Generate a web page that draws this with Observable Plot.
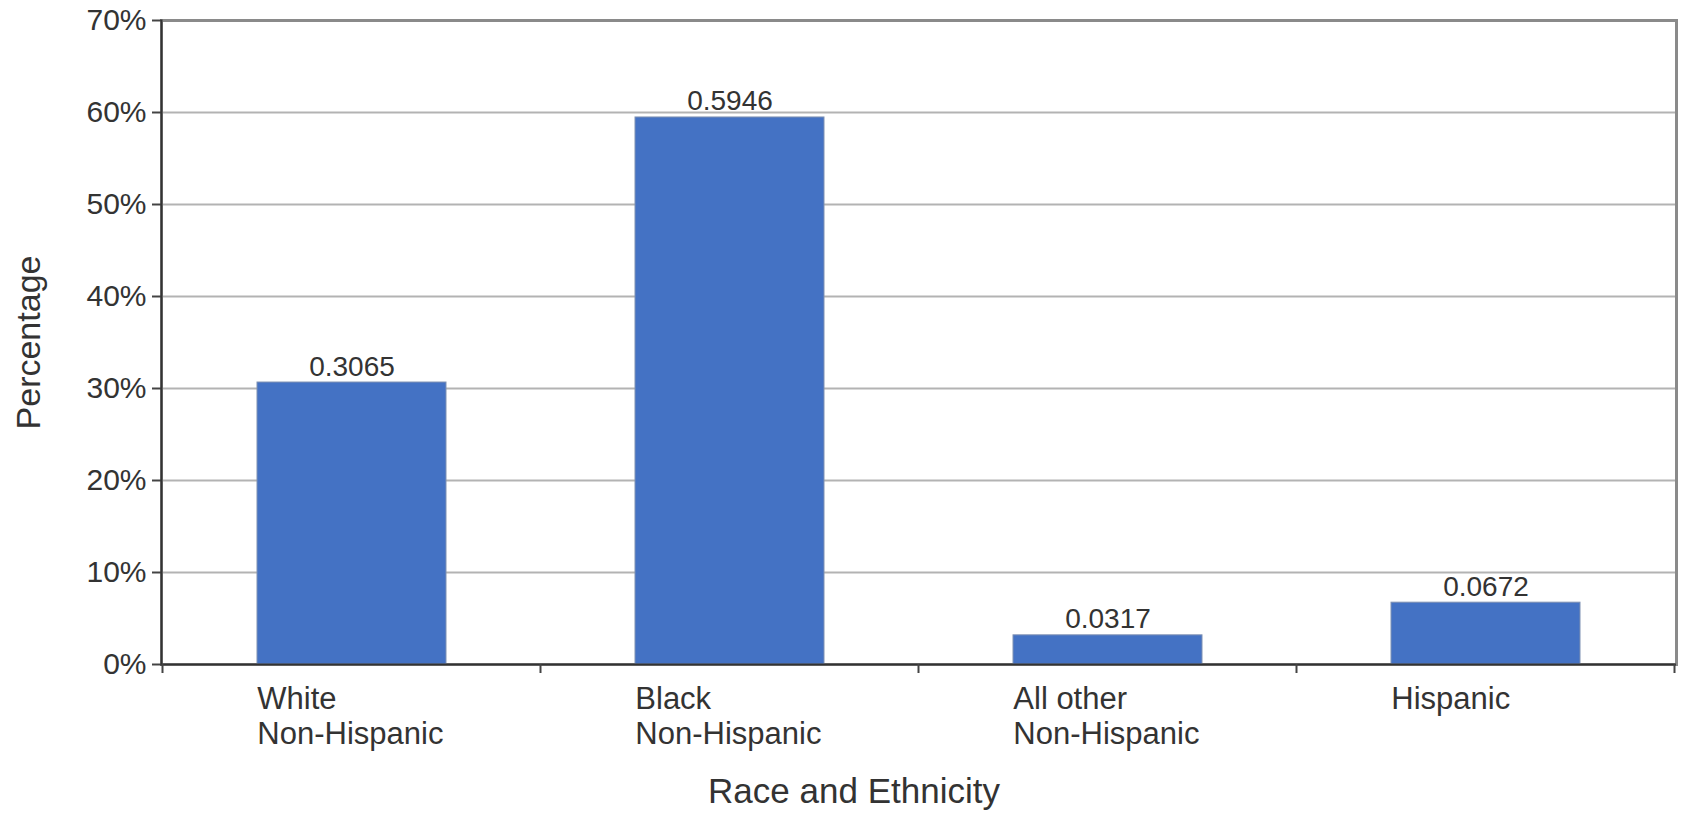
<!DOCTYPE html>
<html>
<head>
<meta charset="utf-8">
<script src="https://cdn.jsdelivr.net/npm/d3@7"></script>
<script src="https://cdn.jsdelivr.net/npm/@observablehq/plot@0.6"></script>
<style>
  html, body { margin: 0; padding: 0; background: #ffffff; }
  #chart svg { display: block; }
</style>
</head>
<body>
<div id="chart"></div>
<script>
// ---- data ----
const categories = ["White\nNon-Hispanic", "Black\nNon-Hispanic", "All other\nNon-Hispanic", "Hispanic"];
const values = [0.3065, 0.5946, 0.0317, 0.0672];
const valueLabels = ["0.3065", "0.5946", "0.0317", "0.0672"];
const yTicks = [0, 0.1, 0.2, 0.3, 0.4, 0.5, 0.6, 0.7];
const xTitle = "Race and Ethnicity";
const yTitle = "Percentage";

const data = categories.map((c, i) => ({category: c, value: values[i], label: valueLabels[i]}));

// ---- layout ----
const W = 1685, H = 818;
const mL = 161, mR = 9, mT = 20, mB = 154;
const step = (W - mL - mR) / categories.length;
const bw = step * 0.5;
const font = "'Liberation Sans', Arial, sans-serif";
const textColor = "#333333";

const plot = Plot.plot({
  width: W, height: H,
  marginLeft: mL, marginRight: mR, marginTop: mT, marginBottom: mB,
  style: {fontFamily: font, color: textColor, background: "#ffffff", overflow: "visible"},
  x: {domain: categories, paddingInner: 0.5, paddingOuter: 0.25, label: null},
  y: {domain: [0, 0.7], label: null},
  marks: [
    Plot.gridY(yTicks, {stroke: "#b3b3b3", strokeOpacity: 1, strokeWidth: 2}),
    Plot.frame({stroke: "#8a8a8a", strokeWidth: 3}),
    Plot.barY(data, {x: "category", y: "value", fill: "#4472c4", stroke: "#7f91b3", strokeWidth: 1}),
    Plot.text(data, {x: "category", y: "value", text: "label", lineAnchor: "bottom", dy: -7, fontSize: 28, fill: textColor}),
    Plot.axisY({ticks: yTicks, tickFormat: d => Math.round(d * 100) + "%", tickSize: 9, tickPadding: 6, fontSize: 30, stroke: "#444", strokeWidth: 2, label: null, fill: textColor}),
    Plot.axisX({tickSize: 0, tickPadding: 20, textAnchor: "start", dx: -bw / 2, fontSize: 31, lineHeight: 1.13, label: null, fill: textColor}),
    Plot.frame({anchor: "left", stroke: "#333", strokeWidth: 2}),
    Plot.ruleY([0], {stroke: "#333", strokeWidth: 2}),
    Plot.text([yTitle], {frameAnchor: "left", textAnchor: "middle", rotate: -90, dx: -132, fontSize: 34, fill: textColor}),
    Plot.text([xTitle], {frameAnchor: "bottom", textAnchor: "middle", dx: -65, dy: 138, fontSize: 35, fill: textColor})
  ]
});

// category separator ticks below the x axis, from the library's band scale
const xs = plot.scale("x");
const svg = d3.select(plot);
const bounds = categories.map(c => xs.apply(c) - xs.step * 0.25);
bounds.push(xs.apply(categories[categories.length - 1]) + xs.bandwidth + xs.step * 0.25);
const y0 = plot.scale("y").apply(0);
svg.append("g")
  .attr("stroke", "#444")
  .attr("stroke-width", 2)
  .selectAll("line")
  .data(bounds)
  .join("line")
  .attr("x1", d => d).attr("x2", d => d)
  .attr("y1", y0).attr("y2", y0 + 9);

document.getElementById("chart").appendChild(plot);
</script>
</body>
</html>
